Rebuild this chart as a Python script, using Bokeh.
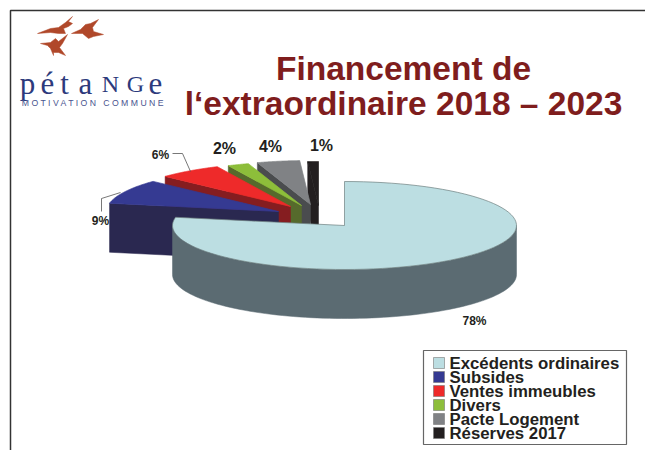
import numpy as np
from bokeh.plotting import figure
from bokeh.models import Range1d
from bokeh.core.properties import value
from bokeh.embed import file_html
from bokeh.resources import INLINE

categories = ["Excédents ordinaires", "Subsides", "Ventes immeubles", "Divers", "Pacte Logement", "Réserves 2017"]
shares = [78, 9, 6, 2, 4, 1]
labels = ["78%", "9%", "6%", "2%", "4%", "1%"]
top_colors = ["#BCDEE2", "#353A92", "#EE2A2A", "#8DBE3A", "#808285", "#231F20"]
side_colors = ["#5B6B72", "#2A2850", "#851D20", "#566A2C", "#4A4C4E", "#231F20"]
title_lines = ["Financement de", "l‘extraordinaire 2018 – 2023"]
logo_letters = list("pétaNGe")

# layout of the pie, in page pixels
RX, RY, DEPTH = 172, 44, 49
apex_x = [344, 278, 290, 301, 310, 318]
apex_y = [225, 211, 206, 205, 204, 205]

p = figure(width=645, height=450, output_backend="svg", toolbar_location=None,
           x_range=Range1d(0, 645), y_range=Range1d(450, 0),
           min_border=0, outline_line_color=None)
p.xaxis.visible = False
p.yaxis.visible = False
p.grid.visible = False
p.background_fill_color = "white"

# frame
p.line([10, 10, 645], [450, 10, 10], line_color="#333333", line_width=1.5)

def pt(ax, ay, deg):
    t = np.radians(deg)
    return ax + RX * np.sin(t), ay - RY * np.cos(t)

edges = np.concatenate([[0], np.cumsum(shares)]) * 3.6

def draw_slice(i):
    a0, a1 = edges[i], edges[i + 1]
    ax, ay = apex_x[i], apex_y[i]
    f0, f1 = max(a0, 90), min(a1, 270)
    if f1 > f0:
        th = np.linspace(f0, f1, 90)
        x, y = pt(ax, ay, th)
        p.patch(list(x) + list(x[::-1]), list(y) + list(y[::-1] + DEPTH),
                fill_color=side_colors[i], line_color=side_colors[i], line_width=0.5)
    if i > 0:
        cx, cy = pt(ax, ay, a0)
        p.patch([ax, cx, cx, ax], [ay, cy, cy + DEPTH, ay + DEPTH],
                fill_color=side_colors[i], line_color=side_colors[i], line_width=0.5)
    th = np.linspace(a0, a1, 90)
    x, y = pt(ax, ay, th)
    p.patch([ax] + list(x), [ay] + list(y), fill_color=top_colors[i],
            line_color="#6f7f80" if i == 0 else top_colors[i], line_width=0.7)

for i in [5, 4, 3, 2, 1, 0]:
    draw_slice(i)

# leader lines
p.line([101, 101, 120], [211, 198, 192], line_color="#555555", line_width=0.8)
p.line([172, 182, 190], [153, 153, 171], line_color="#555555", line_width=0.8)

def txt(x, y, s, size, color="#231F20", style="bold", align="center", font="Liberation Sans", base="middle"):
    p.text([x], [y], text=[s], text_font=value(font), text_font_size=f"{size}px",
           text_font_style=style, text_color=color, text_align=align, text_baseline=base)

# value labels
txt(474, 320, labels[0], 12)
txt(100, 220, labels[1], 12)
txt(160, 154, labels[2], 12)
txt(224, 148, labels[3], 16)
txt(270, 146, labels[4], 16)
txt(321, 145, labels[5], 16)

# title
txt(403, 68, title_lines[0], 33.5, "#7F1D1D")
txt(403, 103, title_lines[1], 33.5, "#7F1D1D")

# legend
p.quad(left=[423], right=[626], top=[350], bottom=[444], fill_color="white", line_color="#666666", line_width=1.2)
for i, c in enumerate(categories):
    y = 362.5 + i * 14
    p.quad(left=[433], right=[444], top=[y - 5.5], bottom=[y + 5.5], fill_color=top_colors[i], line_color="#777777", line_width=0.6)
    txt(449, y, c, 16.8, "#231F20", "bold", "left")

# logo
birds = [
    [(37,33),(50,28),(58,27),(65,22),(72,16),(68,21),(72,23),(68,26),(63,28),(65,33),(58,33),(50,32)],
    [(71,33),(80,29),(85,24),(90,23),(98,19),(92,27),(93,31),(103,34),(93,36),(88,38),(82,33)],
    [(40,43),(50,42),(55,38),(58,41),(67,34),(62,43),(59,47),(65,55),(58,52),(53,52),(53,55),(50,48),(47,45)],
]
for b in birds:
    p.patch([q[0] for q in b], [q[1] for q in b], fill_color="#B0482A", line_color="#B0482A", line_width=0.5)
logo_x = [27, 47, 64, 85, 110, 135, 155]
for ch, lx in zip(logo_letters, logo_x):
    txt(lx, 83, ch, 31 if ch not in "NG" else 24, "#2D3A7C", "normal", "center", "Liberation Serif", "alphabetic")
txt(93, 102, "M O T I V A T I O N\u00a0\u00a0\u00a0C O M M U N E", 8.7, "#4A5590", "normal")

open("out.html", "w").write(file_html(p, INLINE))
